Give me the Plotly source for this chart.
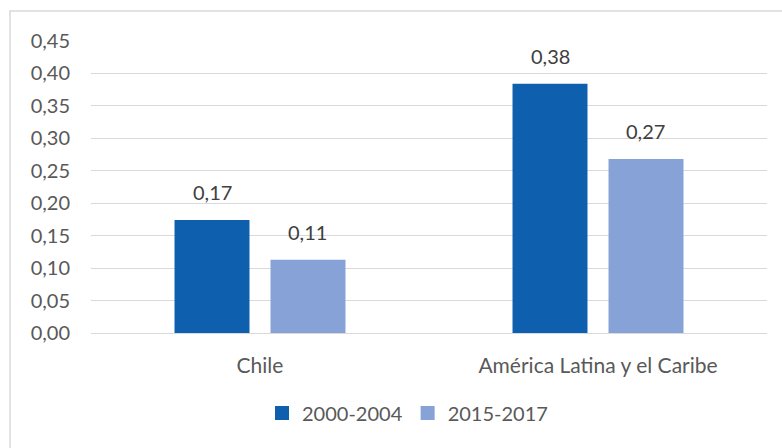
import plotly.graph_objects as go

categories = ["Chile", "América Latina y el Caribe"]
series_names = ["2000-2004", "2015-2017"]
values_2000_2004 = [0.174, 0.384]
values_2015_2017 = [0.113, 0.268]
tick_vals = [0, 0.05, 0.10, 0.15, 0.20, 0.25, 0.30, 0.35, 0.40, 0.45]
colors = ["#0E60AE", "#86A2D6"]

FONT = "Lato, 'Open Sans', sans-serif"
TXT = "#595959"

fig = go.Figure()
for name, vals, col in zip(series_names, [values_2000_2004, values_2015_2017], colors):
    fig.add_trace(go.Bar(
        x=categories, y=vals, name=name, marker=dict(color=col, line=dict(width=0)),
        offsetgroup=name, showlegend=False, hoverinfo="skip",
    ))
    # legend proxy with square marker
    fig.add_trace(go.Scatter(
        x=[None], y=[None], mode="markers", name=name,
        marker=dict(symbol="square", size=14, color=col), showlegend=True,
    ))

W, H = 782, 448
ml, mr, mt, mb = 91, 15, 41, 115
pw, ph = W - ml - mr, H - mt - mb

n = len(series_names)
annotations = []
for si, vals in enumerate([values_2000_2004, values_2015_2017]):
    for ci, v in enumerate(vals):
        annotations.append(dict(
            x=ci, y=v, xref="x", yref="y", text=f"{v:.2f}".replace(".", ","),
            showarrow=False, yanchor="bottom", yshift=14,
            xshift=(-0.5 + (si + 0.5) / n) * (1 - 0.432) * (pw / len(categories)),
            font=dict(size=20, color="#404040", family=FONT),
        ))

fig.update_layout(
    width=W, height=H,
    margin=dict(l=ml, r=mr, t=mt, b=mb),
    paper_bgcolor="white", plot_bgcolor="white",
    separators=",.",
    barmode="group", bargap=0.432, bargroupgap=0.219,
    font=dict(family=FONT, size=20, color=TXT),
    showlegend=True,
    legend=dict(orientation="h", x=(262 - ml) / pw, xanchor="left",
                y=(mt + ph - 413) / ph, yanchor="middle",
                font=dict(size=20, color=TXT), itemwidth=30, traceorder="normal"),
    xaxis=dict(showgrid=False, showline=False, ticks="", ticklabelstandoff=18,
               tickfont=dict(size=21, color=TXT), range=[-0.5, 1.5]),
    yaxis=dict(range=[0, 0.45], tickvals=tick_vals, tickformat=".2f",
               showgrid=True, gridcolor="#D9D9D9", gridwidth=1,
               zeroline=True, zerolinecolor="#D9D9D9", zerolinewidth=1,
               showline=False, ticks="", ticklabelstandoff=20,
               tickfont=dict(size=20, color=TXT)),
    annotations=annotations,
    shapes=[dict(type="rect", xref="paper", yref="paper",
                 x0=(10 - ml) / pw, x1=1.2, y0=-0.6, y1=(mt + ph - 11) / ph,
                 line=dict(color="#D9D9D9", width=1.5), fillcolor="rgba(0,0,0,0)", layer="below")],
)

fig.write_html("out.html", config={"displayModeBar": False},
               post_script="document.body.style.margin='0';document.body.style.overflow='hidden';")
